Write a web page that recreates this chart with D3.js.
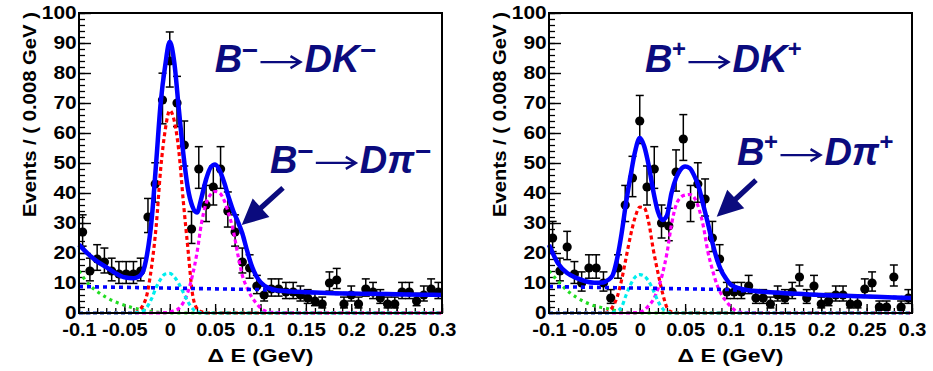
<!DOCTYPE html>
<html>
<head>
<meta charset="utf-8">
<script src="https://cdn.jsdelivr.net/npm/d3@7"></script>
<style>
  body { margin: 0; background: #fff; }
  svg { display: block; }
</style>
</head>
<body>
<svg id="chart" width="933" height="371"></svg>
<script>
// ΔE distributions for B- -> D K- and B+ -> D K+ candidates, 0.008 GeV bins
const binWidth = 0.008;
const binCenters = d3.range(50).map(i => +(-0.1 + binWidth * (i + 0.5)).toFixed(3));

const countsMinus = [27, 14, 18, 17, 14, 13, 13, 13, 14, 32,
                     43, 71, 84, 70, 56, 28, 48, 36, 42, 48,
                     34, 27, 17, 15, 9, 6, 8, 8, 7, 7,
                     6, 5, 4, 3, 10, 11, 3, 6, 3, 8,
                     7, 5, 3, 3, 7, 7, 4, 6, 8, 7];

const countsPlus = [25, 14, 22, 13, 10, 15, 15, 10, 5, 15,
                    36, 45, 64, 42, 48, 30, 29, 47, 58, 36,
                    43, 38, 25, 18, 7, 7, 7, 9, 5, 5,
                    3, 6, 5, 7, 12, 5, 9, 3, 4, 6,
                    6, 3, 3, 8, 10, 2, 2, 12, 2, 5];

// Fit curves, sampled along ΔE
const fitX = [-0.1, -0.09, -0.08, -0.07, -0.06, -0.05, -0.04, -0.035, -0.03, -0.025,
              -0.02, -0.015, -0.01, -0.005, 0, 0.005, 0.01, 0.015, 0.02, 0.025,
              0.03, 0.035, 0.04, 0.045, 0.05, 0.055, 0.06, 0.065, 0.07, 0.075,
              0.08, 0.085, 0.09, 0.095, 0.1, 0.11, 0.12, 0.14, 0.16, 0.18,
              0.2, 0.22, 0.24, 0.26, 0.28, 0.3];

// B- panel
const totalMinus = [22.8, 19.7, 17.2, 15.3, 13.3, 11.9, 11.6, 12.0, 13.5, 19.5,
                    31, 50, 70, 82.5, 90.4, 83.5, 68, 53, 41.5, 35.5,
                    33.5, 38.5, 44.5, 48.5, 49.5, 47.5, 43.5, 38.5, 34, 30.5,
                    26.5, 21, 16, 12.5, 10.3, 8.2, 7.5, 7.1, 6.8, 6.6,
                    6.5, 6.4, 6.3, 6.2, 6.1, 6.0];
const combMinus = [8.8, 8.75, 8.7, 8.65, 8.6, 8.55, 8.5, 8.47, 8.45, 8.42,
                   8.4, 8.37, 8.35, 8.32, 8.3, 8.27, 8.25, 8.22, 8.2, 8.17,
                   8.15, 8.12, 8.1, 8.07, 8.05, 8.02, 8.0, 7.97, 7.95, 7.92,
                   7.9, 7.87, 7.85, 7.82, 7.8, 7.6, 7.4, 7.0, 6.75, 6.55,
                   6.45, 6.35, 6.25, 6.15, 6.05, 5.95];
const dkMinus = [0, 0, 0, 0, 0, 0, 0, 0.6, 2.3, 6.3,
                 15.5, 28.8, 48, 61, 67.5, 64, 54, 37, 21.5, 6.5,
                 1.5, 0.4, 0, 0, 0, 0, 0, 0, 0, 0,
                 0, 0, 0, 0, 0, 0, 0, 0, 0, 0,
                 0, 0, 0, 0, 0, 0];
const dpiMinus = [0, 0, 0, 0, 0, 0, 0, 0, 0, 0,
                  0, 0, 0, 0.1, 0.3, 0.8, 1.5, 3.5, 7, 12.5,
                  20, 30, 36.5, 39.5, 40.5, 40, 37.5, 33, 27.5, 19.5,
                  12.5, 8.5, 5.5, 3.4, 1.7, 0.3, 0.1, 0, 0, 0,
                  0, 0, 0, 0, 0, 0];
const peakBgMinus = [0, 0, 0, 0, 0, 0, 0, 0.2, 0.6, 2,
                     4.8, 8.5, 11.3, 13, 13.2, 12, 9.8, 6.8, 3.8, 1.5,
                     0.4, 0.1, 0, 0, 0, 0, 0, 0, 0, 0,
                     0, 0, 0, 0, 0, 0, 0, 0, 0, 0,
                     0, 0, 0, 0, 0, 0];
const feedMinus = [14, 9.8, 7.2, 5.2, 3.7, 2.6, 1.7, 1.3, 1, 0.7,
                   0.5, 0.3, 0.2, 0.1, 0, 0, 0, 0, 0, 0,
                   0, 0, 0, 0, 0, 0, 0, 0, 0, 0,
                   0, 0, 0, 0, 0, 0, 0, 0, 0, 0,
                   0, 0, 0, 0, 0, 0];

// B+ panel
const totalPlus = [22.7, 16.5, 13.3, 11.7, 10.6, 10.1, 10.2, 11, 12.5, 18,
                   26.5, 37, 46, 54, 58.3, 55.5, 49, 40.5, 33.8, 31,
                   32.5, 40, 45, 47.8, 48.8, 48.3, 45.8, 42, 36, 30,
                   23.5, 18, 14, 11.5, 9.5, 8.2, 7.6, 7.0, 6.6, 6.3,
                   6.0, 5.8, 5.6, 5.4, 5.2, 5.0];
const combPlus = [8.8, 8.75, 8.7, 8.65, 8.6, 8.55, 8.5, 8.47, 8.45, 8.42,
                  8.4, 8.37, 8.35, 8.32, 8.3, 8.27, 8.25, 8.22, 8.2, 8.17,
                  8.15, 8.12, 8.1, 8.07, 8.05, 8.02, 8.0, 7.97, 7.95, 7.92,
                  7.9, 7.87, 7.85, 7.82, 7.8, 7.5, 7.35, 6.95, 6.6, 6.3,
                  6.0, 5.8, 5.6, 5.4, 5.2, 5.0];
const dkPlus = [0, 0, 0, 0, 0, 0, 0, 0.5, 2, 5.2,
                11, 18.5, 26, 32, 35.3, 35, 30, 21, 13.5, 6.8,
                1.8, 0.3, 0, 0, 0, 0, 0, 0, 0, 0,
                0, 0, 0, 0, 0, 0, 0, 0, 0, 0,
                0, 0, 0, 0, 0, 0];
const dpiPlus = [0, 0, 0, 0, 0, 0, 0, 0, 0, 0,
                 0, 0, 0, 0.1, 0.3, 1, 2.5, 4.5, 8, 13,
                 20, 29.5, 36, 38.5, 39.3, 39.5, 38.5, 35, 29, 20.5,
                 14.5, 9.5, 6.2, 4, 2.2, 0.3, 0.1, 0, 0, 0,
                 0, 0, 0, 0, 0, 0];
const peakBgPlus = [0, 0, 0, 0, 0, 0, 0, 0, 0.2, 0.6,
                    2, 6, 9.5, 12, 12.8, 12.3, 10.5, 7.5, 4, 1.5,
                    0.4, 0, 0, 0, 0, 0, 0, 0, 0, 0,
                    0, 0, 0, 0, 0, 0, 0, 0, 0, 0,
                    0, 0, 0, 0, 0, 0];
const feedPlus = [14, 10.6, 7.5, 5.3, 3.6, 2.4, 1.7, 1.4, 1, 0.7,
                  0.4, 0.2, 0.1, 0, 0, 0, 0, 0, 0, 0,
                  0, 0, 0, 0, 0, 0, 0, 0, 0, 0,
                  0, 0, 0, 0, 0, 0, 0, 0, 0, 0,
                  0, 0, 0, 0, 0, 0];

const xTickValues = [-0.1, -0.05, 0, 0.05, 0.1, 0.15, 0.2, 0.25, 0.3];
const xTickLabels = ["-0.1", "-0.05", "0", "0.05", "0.1", "0.15", "0.2", "0.25", "0.3"];
const yTickValues = [0, 10, 20, 30, 40, 50, 60, 70, 80, 90, 100];
const yTickLabels = ["0", "10", "20", "30", "40", "50", "60", "70", "80", "90", "100"];
const xTitle = "\u0394 E (GeV)";
const yTitle = "Events / ( 0.008 GeV )";

const NAVY = "#0b0b7e";
const FONT = "'Liberation Sans', Arial, Helvetica, sans-serif";

const svg = d3.select("#chart");

function drawPanel(opt) {
  const x = d3.scaleLinear().domain([-0.1, 0.3]).range([opt.left, opt.left + 363]);
  const y = d3.scaleLinear().domain([0, 100]).range([313, 13]);
  const g = svg.append("g");

  // minor ticks
  g.append("g").attr("transform", "translate(0,313)")
    .call(d3.axisBottom(x).tickValues(d3.range(-10, 31).map(v => v / 100)).tickSizeInner(-5).tickSizeOuter(0).tickFormat(""))
    .call(a => a.select(".domain").remove())
    .selectAll("line").attr("stroke", "#000").attr("stroke-width", 1.3);
  g.append("g").attr("transform", `translate(${opt.left},0)`)
    .call(d3.axisLeft(y).tickValues(d3.range(0, 101, 2)).tickSizeInner(-6).tickSizeOuter(0).tickFormat(""))
    .call(a => a.select(".domain").remove())
    .selectAll("line").attr("stroke", "#000").attr("stroke-width", 1.3);

  // major ticks + labels
  const xa = g.append("g").attr("transform", "translate(0,313)")
    .call(d3.axisBottom(x).tickValues(xTickValues).tickSizeInner(-9).tickSizeOuter(0).tickPadding(10)
      .tickFormat((d, i) => xTickLabels[i]));
  xa.select(".domain").remove();
  xa.selectAll("line").attr("stroke", "#000").attr("stroke-width", 1.4);
  xa.selectAll("text").attr("font-family", FONT).attr("font-weight", "bold")
    .attr("font-size", 18.5).attr("fill", "#000").attr("transform", "scale(1.08,1)");

  const ya = g.append("g").attr("transform", `translate(${opt.left},0)`)
    .call(d3.axisLeft(y).tickValues(yTickValues).tickSizeInner(-12).tickSizeOuter(0).tickPadding(2)
      .tickFormat((d, i) => yTickLabels[i]));
  ya.select(".domain").remove();
  ya.selectAll("line").attr("stroke", "#000").attr("stroke-width", 1.4);
  ya.selectAll("text").attr("font-family", FONT).attr("font-weight", "bold")
    .attr("font-size", 18).attr("fill", "#000").attr("transform", "scale(1.16,1)");

  // axis titles
  const cx = (x.range()[0] + x.range()[1]) / 2;
  g.append("text").attr("x", cx - 53).attr("y", 362)
    .attr("font-family", FONT).attr("font-weight", "bold").attr("font-size", 19)
    .attr("textLength", 106).attr("lengthAdjust", "spacingAndGlyphs")
    .text(xTitle);
  g.append("text")
    .attr("transform", `translate(${opt.left - 43},217) rotate(-90)`)
    .attr("font-family", FONT).attr("font-weight", "bold").attr("font-size", 18)
    .attr("textLength", 205).attr("lengthAdjust", "spacingAndGlyphs")
    .text(yTitle);

  // data points with Poisson-style error bars
  const pts = binCenters.map((c, i) => ({ c, n: opt.counts[i] }));
  const eb = g.append("g").attr("stroke", "#000").attr("stroke-width", 1.5);
  pts.forEach(p => {
    const s = Math.sqrt(p.n + 0.25);
    const hi = p.n + s + 0.5, lo = Math.max(0, p.n - s + 0.5);
    const px = x(p.c);
    eb.append("line").attr("x1", px).attr("x2", px).attr("y1", y(lo)).attr("y2", y(hi));
    eb.append("line").attr("x1", px - 4).attr("x2", px + 4).attr("y1", y(hi)).attr("y2", y(hi));
    eb.append("line").attr("x1", px - 4).attr("x2", px + 4).attr("y1", y(lo)).attr("y2", y(lo));
  });
  g.append("g").selectAll("circle").data(pts).join("circle")
    .attr("cx", d => x(d.c)).attr("cy", d => y(d.n)).attr("r", 4.6).attr("fill", "#000");

  // fit components
  const line = d3.line().x(d => x(d[0])).y(d => y(d[1])).curve(d3.curveMonotoneX);
  const comp = (vals, color, width, dash) => g.append("path")
    .datum(fitX.map((v, i) => [v, vals[i]]))
    .attr("d", line).attr("fill", "none").attr("stroke", color)
    .attr("stroke-width", width).attr("stroke-dasharray", dash);

  comp(opt.feed, "#22dd22", 3.2, "3,4");
  comp(opt.dk, "#ff0000", 3.2, "4,3");
  comp(opt.dpi, "#ff00ff", 3.2, "4,3");
  comp(opt.peakBg, "#00eeee", 3.2, "4,3");
  comp(opt.comb, "#0000ff", 3.6, "4,4");
  comp(opt.total, "#0000ff", 4.5, null);

  // frame
  g.append("rect").attr("x", x.range()[0]).attr("y", 13).attr("width", 363).attr("height", 300)
    .attr("fill", "none").attr("stroke", "#000").attr("stroke-width", 2);

  // decay labels: "B±", a long thin arrow, then the final state
  function decayLabel(xv, yv, tail, charge) {
    const x0 = x(xv), base = y(yv);
    const supSize = charge === "+" ? 24 : 28;
    const shift = charge === "+" ? 15 : 12;
    const sup = charge === "+" ? "+" : "\u2212";
    const style = s => s.attr("font-family", FONT).attr("font-size", 38).attr("font-weight", "bold")
      .attr("font-style", "italic").attr("fill", NAVY);

    const t1 = g.append("text").attr("x", x0).attr("y", base).call(style);
    t1.append("tspan").text("B");
    t1.append("tspan").attr("font-size", supSize).attr("dy", -shift).attr("dx", -1).text(sup);
    const w1 = t1.node().getComputedTextLength();

    const a0 = x0 + w1 + 2, a1 = a0 + 40, ay = base - 10;
    g.append("path")
      .attr("d", `M${a0},${ay}L${a1},${ay}M${a1 - 10},${ay - 6}L${a1},${ay}L${a1 - 10},${ay + 6}`)
      .attr("fill", "none").attr("stroke", NAVY).attr("stroke-width", 2.4)
      .attr("stroke-linejoin", "miter");

    const t2 = g.append("text").attr("x", a1 + 4).attr("y", base).call(style);
    t2.append("tspan").text(tail);
    t2.append("tspan").attr("font-size", supSize).attr("dy", -shift).text(sup);
  }
  decayLabel(opt.lab1[0], opt.lab1[1], "DK", opt.charge);
  decayLabel(opt.lab2[0], opt.lab2[1], "D\u03c0", opt.charge);

  // arrow pointing at the D pi peak
  const [tx, ty] = [x(opt.arrowTip[0]), y(opt.arrowTip[1])];
  const [sx, sy] = [x(opt.arrowTail[0]), y(opt.arrowTail[1])];
  const ang = Math.atan2(ty - sy, tx - sx);
  const headLen = 26, headHalf = 12.5, shaft = 2.6;
  const ux = Math.cos(ang), uy = Math.sin(ang), nx = -uy, ny = ux;
  const bx = tx - ux * headLen, by = ty - uy * headLen;
  const poly = [
    [sx + nx * shaft, sy + ny * shaft],
    [bx + nx * shaft, by + ny * shaft],
    [bx + nx * headHalf, by + ny * headHalf],
    [tx, ty],
    [bx - nx * headHalf, by - ny * headHalf],
    [bx - nx * shaft, by - ny * shaft],
    [sx - nx * shaft, sy - ny * shaft]
  ];
  g.append("path").attr("d", "M" + poly.map(p => p.join(",")).join("L") + "Z").attr("fill", NAVY);
}

drawPanel({
  left: 79, counts: countsMinus, charge: "-",
  total: totalMinus, comb: combMinus, dk: dkMinus, dpi: dpiMinus, peakBg: peakBgMinus, feed: feedMinus,
  lab1: [0.0495, 80.3], lab2: [0.1105, 46.7],
  arrowTip: [0.0793, 29.3], arrowTail: [0.1248, 41.7]
});
drawPanel({
  left: 549, counts: countsPlus, charge: "+",
  total: totalPlus, comb: combPlus, dk: dkPlus, dpi: dpiPlus, peakBg: peakBgPlus, feed: feedPlus,
  lab1: [0.0058, 80.3], lab2: [0.1072, 49.3],
  arrowTip: [0.0848, 32.1], arrowTail: [0.1281, 44.3]
});
</script>
</body>
</html>
